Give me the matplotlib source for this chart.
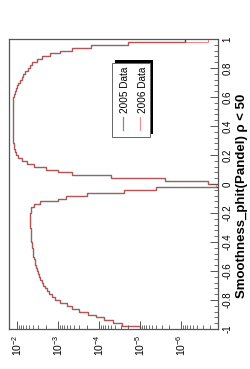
import numpy as np
import matplotlib
matplotlib.use('Agg')
import matplotlib.pyplot as plt
from matplotlib.patches import Rectangle
from matplotlib.lines import Line2D
from matplotlib.ticker import LogLocator, MultipleLocator, FixedLocator, NullFormatter, FuncFormatter

plt.rcParams['font.family'] = ['Liberation Sans', 'DejaVu Sans']
plt.rcParams['mathtext.fontset'] = 'custom'
plt.rcParams['mathtext.rm'] = 'Liberation Sans'
plt.rcParams['mathtext.it'] = 'Liberation Sans:italic'
plt.rcParams['mathtext.bf'] = 'Liberation Sans:bold'
plt.rcParams['axes.unicode_minus'] = False

# Data: log10 of normalised counts, 100 bins from -1 to 1 (None = empty bin)
bin_edges = np.linspace(-1, 1, 101)
log_2005 = [-5.0, -4.55, -4.35, -4.12, -3.93, -3.72, -3.52, -3.35, -3.22, -3.05,
            -2.93, -2.85, -2.79, -2.73, -2.68, -2.64, -2.60, -2.57, -2.54, -2.51,
            -2.49, -2.47, -2.45, -2.43, -2.41, -2.40, -2.39, -2.38, -2.37, -2.36,
            -2.35, -2.34, -2.34, -2.33, -2.33, -2.32, -2.32, -2.32, -2.32, -2.32,
            -2.33, -2.35, -2.42, -2.55, -3.0, -3.2, -3.7, -4.6, -5.4, None,
            -6.66, -5.6, -4.3, -3.35, -3.0, -2.7, -2.42, -2.25, -2.12, -2.03,
            -1.98, -1.95, -1.93, -1.92, -1.91, -1.90, -1.90, -1.89, -1.89, -1.89,
            -1.89, -1.89, -1.89, -1.89, -1.89, -1.89, -1.89, -1.90, -1.90, -1.91,
            -1.93, -1.95, -1.97, -1.99, -2.03, -2.07, -2.11, -2.15, -2.20, -2.26,
            -2.31, -2.36, -2.48, -2.62, -2.80, -3.05, -3.35, -3.80, -4.7, -6.1]
log_2006 = [-5.0, -4.55, -4.35, -4.12, -3.93, -3.72, -3.52, -3.35, -3.22, -3.05,
            -2.93, -2.85, -2.79, -2.73, -2.68, -2.64, -2.60, -2.57, -2.54, -2.51,
            -2.49, -2.47, -2.45, -2.43, -2.41, -2.40, -2.39, -2.38, -2.37, -2.36,
            -2.35, -2.34, -2.34, -2.33, -2.33, -2.32, -2.32, -2.32, -2.32, -2.32,
            -2.33, -2.35, -2.42, -2.55, -3.0, -3.2, -3.7, -4.6, -5.4, -6.85,
            -6.66, -5.6, -4.3, -3.35, -3.0, -2.7, -2.42, -2.25, -2.12, -2.03,
            -1.98, -1.95, -1.93, -1.92, -1.91, -1.90, -1.90, -1.89, -1.89, -1.89,
            -1.89, -1.89, -1.89, -1.89, -1.89, -1.89, -1.89, -1.90, -1.90, -1.91,
            -1.93, -1.95, -1.97, -1.99, -2.03, -2.07, -2.11, -2.15, -2.20, -2.26,
            -2.31, -2.36, -2.48, -2.62, -2.80, -3.05, -3.35, -3.80, -4.7, -6.66]
labels = ['2005 Data', '2006 Data']
colors = ['#333333', '#e86060']
x_title = r'Smoothness_phit(Pandel) ρ < 50'


def counts(logs):
    a = np.array(logs, dtype=float)
    # empty bins drop below the log axis like in ROOT
    return np.where(np.isnan(a), 1e-12, 10 ** a)


W, H = 250, 369
fig = plt.figure(figsize=(W / 100, H / 100), dpi=100)
fig.patch.set_facecolor('white')


def fx(px):
    return px / W


def fy(py):
    return 1 - py / H


# the whole plot is turned by 90 degrees: variable on the vertical, log counts horizontal
ax = fig.add_axes([fx(9), fy(329), fx(218) - fx(9), fy(39) - fy(329)])
ax.stairs(counts(log_2005), bin_edges, orientation='horizontal', baseline=None,
          color=colors[0], lw=0.9)
ax.stairs(counts(log_2006), bin_edges, orientation='horizontal', baseline=None,
          color=colors[1], lw=0.8, alpha=0.75)

ax.set_xscale('log')
ax.set_xlim(1.57e-2, 1.26e-7)
ax.set_ylim(-1, 1)

for sp in ax.spines.values():
    sp.set_color('#555555')
    sp.set_linewidth(0.9)

# log axis (bottom)
ax.xaxis.set_major_locator(FixedLocator([1e-2, 1e-3, 1e-4, 1e-5, 1e-6]))
ax.xaxis.set_minor_locator(LogLocator(base=10, subs=np.arange(2, 10), numticks=20))
ax.xaxis.set_minor_formatter(NullFormatter())
ax.set_xticklabels([r'$10^{-2}$', r'$10^{-3}$', r'$10^{-4}$', r'$10^{-5}$', r'$10^{-6}$'])
ax.tick_params(axis='x', which='major', direction='in', length=6, width=0.7,
               color='#555555', pad=4, labelsize=7.5)
ax.tick_params(axis='x', which='minor', direction='in', length=3, width=0.6,
               color='#555555')
for lab in ax.get_xticklabels():
    lab.set_rotation(90)
    lab.set_ha('center')
    lab.set_va('top')

# variable axis (right)
ax.yaxis.tick_right()
ax.yaxis.set_major_locator(MultipleLocator(0.2))
ax.yaxis.set_minor_locator(MultipleLocator(0.04))
ax.yaxis.set_major_formatter(FuncFormatter(lambda v, p: '%g' % round(v, 2)))
ax.tick_params(axis='y', which='major', direction='in', length=6, width=0.7,
               color='#555555', pad=3, labelsize=7)
ax.tick_params(axis='y', which='minor', direction='in', length=3, width=0.6,
               color='#555555')
for lab in ax.get_yticklabels():
    lab.set_rotation(90)
    lab.set_ha('left')
    lab.set_va('center')

fig.text(fx(242), fy(196), x_title, rotation=90, ha='center', va='center',
         fontsize=9.5, fontweight='bold')

# legend with ROOT style shadow
fig.add_artist(Rectangle((fx(115), fy(134)), fx(153) - fx(115), fy(60) - fy(134),
                         transform=fig.transFigure, facecolor='black', edgecolor='none'))
fig.add_artist(Rectangle((fx(112), fy(137)), fx(150) - fx(112), fy(63) - fy(137),
                         transform=fig.transFigure, facecolor='white',
                         edgecolor='#666666', lw=0.7))
for lab, col, tx, lx in zip(labels, ['#888888', '#f09090'], [125, 143], [123, 140]):
    fig.add_artist(Line2D([fx(lx), fx(lx)], [fy(117), fy(130)],
                          transform=fig.transFigure, color=col, lw=0.9))
    fig.text(fx(tx), fy(90), lab, rotation=90, ha='center', va='center', fontsize=7.2)

fig.savefig('out.png', dpi=100)
